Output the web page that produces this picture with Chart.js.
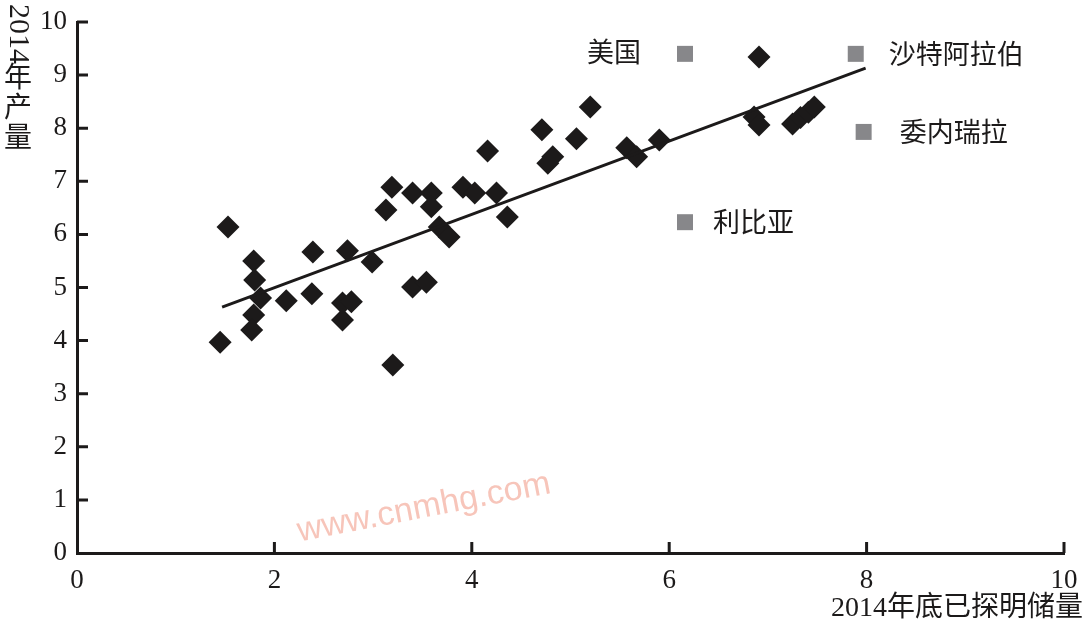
<!DOCTYPE html>
<html>
<head>
<meta charset="utf-8">
<script src="https://cdn.jsdelivr.net/npm/chart.js@4/dist/chart.umd.min.js"></script>
<style>
  html, body { margin: 0; padding: 0; background: #fff; }
  #chart { display: block; }
</style>
</head>
<body>
<canvas id="chart" width="1084" height="634"></canvas>
<script>
// --- Data ---
const reserveX = [1.45, 1.53, 1.79, 1.80, 1.86, 1.79, 1.77, 2.12, 2.39, 2.38,
                  2.74, 2.99, 2.69, 2.78, 2.69, 3.20, 3.40, 3.54, 3.13, 3.19,
                  3.40, 3.59, 3.59, 3.91, 4.03, 4.25, 4.36, 3.67, 3.77, 4.16,
                  4.71, 5.06, 5.20, 4.82, 4.77, 5.57, 5.67, 5.90, 6.91, 6.86,
                  6.91, 7.25, 7.33, 7.41, 7.47];
const outputY  = [3.97, 6.14, 5.50, 5.14, 4.80, 4.48, 4.20, 4.75, 5.67, 4.88,
                  5.69, 5.48, 4.71, 4.73, 4.39, 3.54, 5.01, 5.10, 6.46, 6.89,
                  6.78, 6.78, 6.52, 6.89, 6.78, 6.78, 6.33, 6.14, 5.95, 7.57,
                  7.97, 7.80, 8.40, 7.46, 7.34, 7.63, 7.46, 7.78, 9.34, 8.21,
                  8.06, 8.08, 8.20, 8.30, 8.40];

// fitted line end points
const trendX = [1.47, 7.99];
const trendY = [4.63, 9.13];

// labelled countries (grey squares)
const countryNames = ["美国", "沙特阿拉伯", "委内瑞拉", "利比亚"];
const countryX = [6.16, 7.89, 7.97, 6.16];
const countryY = [9.40, 9.40, 7.93, 6.23];

const xTitle = "2014年底已探明储量";
const yTitle = "2014年产量";
const watermark = "www.cnmhg.com";

// --- Styles ---
const ink = "#1c1a1a";
const fontFamily = "'Liberation Serif', 'Noto Sans CJK SC', serif";
// label offset per country: [dx, dy, align]
const labelPos = [[-44, 1, "right"], [33, 3, "left"], [36, 3, "left"], [28, 3, "left"]];

const toPoints = (xs, ys) => xs.map((x, i) => ({ x: x, y: ys[i] }));

// --- Custom drawing: inward ticks, titles, labels ---
const decorations = {
    id: "decorations",
    afterDraw(chart) {
        const c = chart.ctx;
        const xs = chart.scales.x;
        const ys = chart.scales.y;
        const area = chart.chartArea;
        c.save();

        // tick marks pointing into the plot
        c.strokeStyle = ink;
        c.lineWidth = 3;
        c.beginPath();
        xs.ticks.forEach(t => {
            if (t.value === 0) return;
            const px = xs.getPixelForValue(t.value);
            c.moveTo(px, area.bottom);
            c.lineTo(px, area.bottom - 11);
        });
        ys.ticks.forEach(t => {
            if (t.value === 0) return;
            const py = ys.getPixelForValue(t.value);
            c.moveTo(area.left, py);
            c.lineTo(area.left + 11, py);
        });
        c.stroke();

        // country labels
        c.fillStyle = ink;
        c.font = "27px " + fontFamily;
        c.textBaseline = "middle";
        countryNames.forEach((name, i) => {
            const px = xs.getPixelForValue(countryX[i]);
            const py = ys.getPixelForValue(countryY[i]);
            c.textAlign = labelPos[i][2];
            c.fillText(name, px + labelPos[i][0], py + labelPos[i][1]);
        });

        // x title
        c.font = "28px " + fontFamily;
        c.textAlign = "right";
        c.textBaseline = "middle";
        c.fillText(xTitle, 1083, 609);

        // y title, vertical: digits rotated, CJK upright
        const digits = yTitle.match(/^[0-9]+/)[0];
        const rest = yTitle.slice(digits.length);
        c.save();
        c.translate(18, 4);
        c.rotate(Math.PI / 2);
        c.textAlign = "left";
        c.font = "30px " + fontFamily;
        c.fillText(digits, 0, 0);
        c.restore();
        const dw = c.measureText("0").width * 4 * 30 / 28;
        c.textAlign = "center";
        [...rest].forEach((ch, i) => {
            c.fillText(ch, 18, 4 + dw + 16 + i * 30);
        });

        // watermark
        c.save();
        c.translate(424, 508);
        c.rotate(-0.19);
        c.font = "34px 'Liberation Sans', sans-serif";
        c.fillStyle = "rgba(240, 150, 130, 0.55)";
        c.textAlign = "center";
        c.fillText(watermark, 0, 0);
        c.restore();

        c.restore();
    }
};

const ctx = document.getElementById("chart").getContext("2d");
const chart = new Chart(ctx, {
    type: "scatter",
    data: {
        datasets: [
            {
                label: "trend",
                type: "line",
                data: toPoints(trendX, trendY),
                borderColor: ink,
                borderWidth: 3,
                pointRadius: 0,
                fill: false
            },
            {
                label: "countries",
                data: toPoints(reserveX, outputY),
                pointStyle: "rectRot",
                pointRadius: 11.5,
                backgroundColor: ink,
                borderColor: ink,
                borderWidth: 0
            },
            {
                label: "labelled",
                data: toPoints(countryX, countryY),
                pointStyle: "rect",
                pointRadius: 11.3,
                backgroundColor: "#87878a",
                borderWidth: 0
            }
        ]
    },
    options: {
        responsive: false,
        animation: false,
        layout: { padding: { top: 22, right: 20, left: 0, bottom: 0 } },
        plugins: {
            legend: { display: false },
            tooltip: { enabled: false }
        },
        scales: {
            x: {
                type: "linear",
                min: 0,
                max: 10,
                ticks: { stepSize: 2, padding: 12, color: ink, font: { family: fontFamily, size: 27 } },
                grid: { display: false, drawTicks: false },
                border: { color: ink, width: 3 },
                afterFit: s => { s.height = 81; s.paddingRight = 0; s.paddingLeft = 0; }
            },
            y: {
                type: "linear",
                min: 0,
                max: 10,
                ticks: { stepSize: 1, padding: 10, color: ink, font: { family: fontFamily, size: 27 } },
                grid: { display: false, drawTicks: false },
                border: { color: ink, width: 3 },
                afterFit: s => { s.width = 77; s.paddingTop = 0; s.paddingBottom = 0; }
            }
        }
    },
    plugins: [decorations]
});
</script>
</body>
</html>
